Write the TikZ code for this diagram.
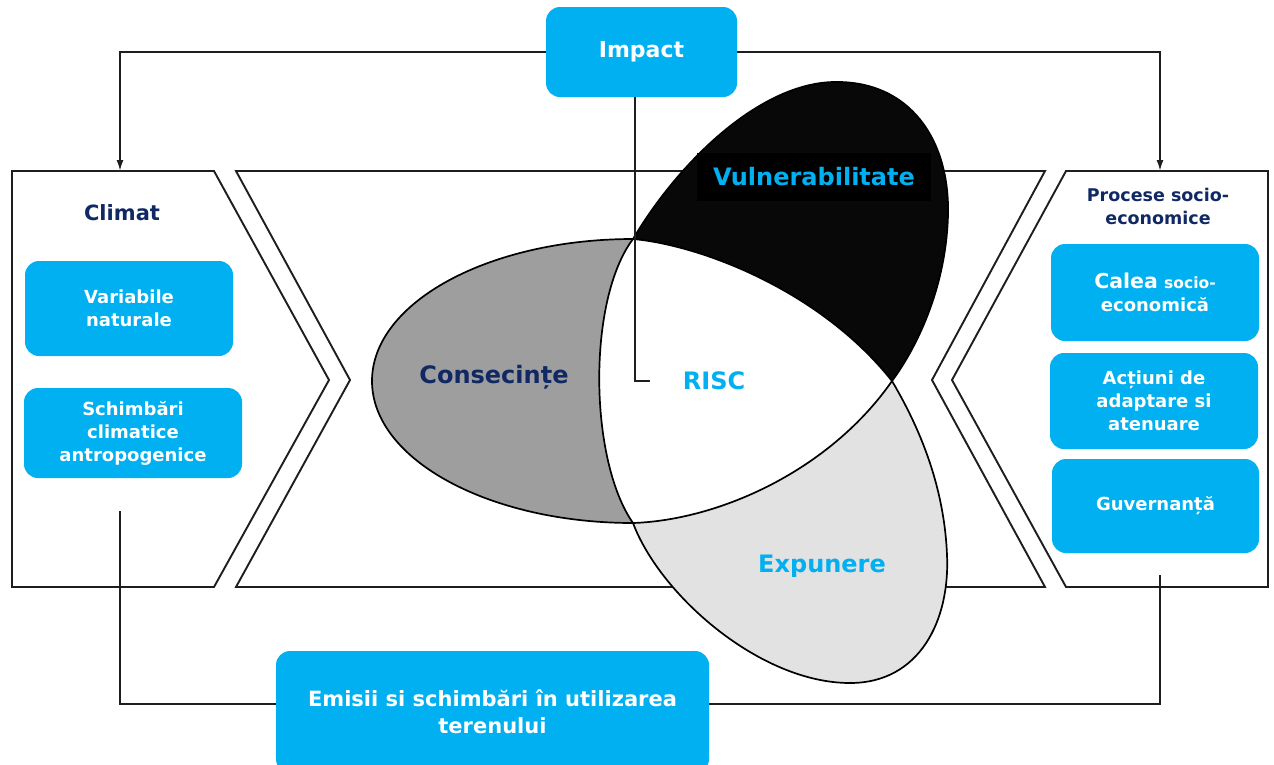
\documentclass[tikz,border=0pt]{standalone}
\usepackage{fontspec}
\setmainfont{DejaVu Sans}
\usetikzlibrary{arrows.meta}
\definecolor{cyanbox}{RGB}{0,176,240}
\definecolor{navy}{RGB}{16,40,100}
\definecolor{petalgray}{RGB}{158,158,158}
\definecolor{petallight}{RGB}{226,226,226}
\definecolor{petalblack}{RGB}{8,8,8}
\definecolor{linecol}{RGB}{30,30,30}
\tikzset{
  bluebox/.style={fill=cyanbox, rounded corners=14pt, text=white, align=center, inner sep=0pt},
  panel/.style={draw=linecol, line width=1.9pt, fill=white, line join=miter},
  conn/.style={draw=linecol, line width=1.8pt},
  arr/.style={conn, -{Latex[length=11pt,width=7pt]}},
  petaledge/.style={draw=black, line width=1.7pt},
  big/.style={font=\fontsize{24}{28}\selectfont\bfseries},
  mid/.style={font=\fontsize{18}{23}\selectfont\bfseries},
}
\begin{document}
\begin{tikzpicture}[x=1pt,y=-1pt]
\useasboundingbox (0,0) rectangle (1274,764);
\clip (0,0) rectangle (1274,764);
\fill[white] (0,0) rectangle (1274,764);

% panels
\draw[panel] (12,171) -- (214,171) -- (329,380) -- (214,587) -- (12,587) -- cycle;
\draw[panel] (236,171) -- (1045,171) -- (932,380) -- (1045,587) -- (236,587) -- (350,380) -- cycle;
\draw[panel] (1066,171) -- (1268,171) -- (1268,587) -- (1066,587) -- (952,380) -- cycle;

% key points of the petals
\coordinate (A) at (633,239);
\coordinate (B) at (892,381);
\coordinate (C) at (633,523);

% petal regions
\fill[petalgray] (A) arc[start angle=-90, end angle=-270, x radius=261, y radius=142]
  .. controls (589,460) and (587,300) .. (A) -- cycle;
\fill[petalblack] (A) .. controls (680,160) and (760,84) .. (833,82)
  .. controls (910,80) and (950,140) .. (948,215)
  .. controls (946,290) and (915,350) .. (B)
  .. controls (820,290) and (700,245) .. (A) -- cycle;
\fill[petallight] (C) .. controls (660,595) and (760,683) .. (850,683)
  .. controls (920,683) and (950,620) .. (947,555)
  .. controls (944,480) and (915,420) .. (B)
  .. controls (830,470) and (720,520) .. (C) -- cycle;
\fill[white] (A) .. controls (587,300) and (589,460) .. (C)
  .. controls (720,520) and (830,470) .. (B)
  .. controls (820,290) and (700,245) .. (A) -- cycle;

% petal outlines
\draw[petaledge] (A) arc[start angle=-90, end angle=-270, x radius=261, y radius=142];
\draw[petaledge] (A) .. controls (587,300) and (589,460) .. (C);
\draw[petaledge] (A) .. controls (700,245) and (820,290) .. (B);
\draw[petaledge] (B) .. controls (830,470) and (720,520) .. (C);
\draw[petaledge] (A) .. controls (680,160) and (760,84) .. (833,82)
  .. controls (910,80) and (950,140) .. (948,215)
  .. controls (946,290) and (915,350) .. (B);
\draw[petaledge] (C) .. controls (660,595) and (760,683) .. (850,683)
  .. controls (920,683) and (950,620) .. (947,555)
  .. controls (944,480) and (915,420) .. (B);

% petal labels
\node[big, fill=black, text=cyanbox, minimum width=234pt, minimum height=48pt, inner sep=0pt] (vuln) at (814,177) {Vulnerabilitate};
\node[big, text=navy] (cons) at (494,377) {Consecințe};
\node[big, text=cyanbox] (risc) at (714,381) {RISC};
\node[big, text=cyanbox] (expu) at (822,566) {Expunere};

% top box
\node[bluebox, font=\fontsize{22}{26}\selectfont\bfseries, minimum width=191pt, minimum height=90pt] (impact) at (641.5,52) {Impact};

% bottom box
\node[bluebox, font=\fontsize{21}{27}\selectfont\bfseries, minimum width=433pt, minimum height=122pt] (emisii) at (492.5,712) {Emisii si schimbări în utilizarea\\terenului};

% left panel contents
\node[font=\fontsize{21}{25}\selectfont\bfseries, text=navy] (climat) at (122,213) {Climat};
\node[bluebox, mid, minimum width=208pt, minimum height=95pt] (varnat) at (129,308.5) {Variabile\\naturale};
\node[bluebox, mid, minimum width=218pt, minimum height=90pt] (schimb) at (133,433) {Schimbări\\climatice\\antropogenice};

% right panel contents
\node[font=\fontsize{17.5}{23}\selectfont\bfseries, text=navy, align=center] (procese) at (1158,206) {Procese socio-\\economice};
\node[bluebox, mid, minimum width=208pt, minimum height=97pt] (calea) at (1155,292.5) {{\fontsize{20.5}{23}\selectfont Calea} {\fontsize{15.5}{23}\selectfont socio-}\\economică};
\node[bluebox, mid, minimum width=208pt, minimum height=96pt] (actiuni) at (1154,401) {Acțiuni de\\adaptare si\\atenuare};
\node[bluebox, mid, minimum width=207pt, minimum height=94pt] (guv) at (1155.5,506) {Guvernanță};

% connector coordinates
\coordinate (ltop) at (120,171);
\coordinate (rtop) at (1160,171);
\coordinate (rc) at (635,381);
\coordinate (rcend) at (650,381);
\coordinate (lstart) at (120,511);
\coordinate (lbot) at (120,704);
\coordinate (rstart) at (1160,575);
\coordinate (rbot) at (1160,704);

% connectors
\draw[arr] (impact.west) -| (ltop);
\draw[arr] (impact.east) -| (rtop);
\draw[conn] (rc |- impact.south) -- (rc) -- (rcend);
\draw[conn] (lstart) -- (lbot) -- (emisii.west |- lbot);
\draw[conn] (rstart) -- (rbot) -- (emisii.east |- rbot);
\end{tikzpicture}
\end{document}
